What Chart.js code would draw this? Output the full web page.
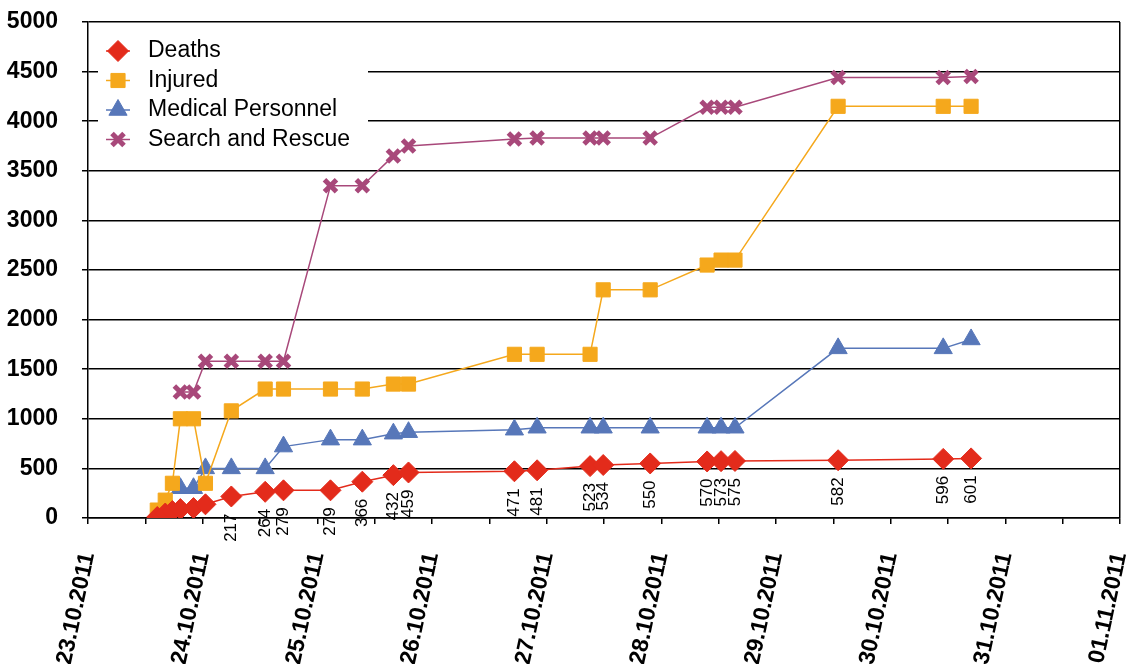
<!DOCTYPE html>
<html>
<head>
<meta charset="utf-8">
<script src="https://cdn.jsdelivr.net/npm/chart.js@4.4.0/dist/chart.umd.min.js"></script>
<style>
  html, body { margin: 0; padding: 0; background: #fff; overflow: hidden; }
  canvas { display: block; }
</style>
</head>
<body>
<canvas id="chart01" width="1126" height="664"></canvas>
<script>
// date ticks on the x axis (one per day, from 23.10)
var dayLabels = ['23.10.2011', '24.10.2011', '25.10.2011', '26.10.2011', '27.10.2011',
  '28.10.2011', '29.10.2011', '30.10.2011', '31.10.2011', '01.11.2011'];

// report times (dd.mm hh:mm, 2011)
var times = ['23.10 14:30', '23.10 16:10', '23.10 17:40', '23.10 19:20', '23.10 22:05',
  '24.10 00:35', '24.10 06:00', '24.10 13:05', '24.10 16:55', '25.10 02:45', '25.10 09:25',
  '25.10 15:55', '25.10 19:05', '26.10 17:15', '26.10 22:00', '27.10 09:05', '27.10 11:50',
  '27.10 21:40', '28.10 09:35', '28.10 12:30', '28.10 15:25', '29.10 13:00', '30.10 11:00',
  '30.10 16:50'];

var deaths = [10, 45, 70, 90, 100, 138, 217, 264, 279, 279, 366, 432, 459, 471, 481, 523, 534,
  550, 570, 573, 575, 582, 596, 601];
var injured = [80, 180, 350, 1000, 1000, 350, 1080, 1300, 1300, 1300, 1300, 1350, 1350, 1650,
  1650, 1650, 2300, 2300, 2550, 2600, 2600, 4150, 4150, 4150];
var medical = [null, null, null, 300, 300, 500, 500, 500, 720, 790, 790, 850, 865, 890, 910,
  910, 910, 910, 910, 910, 910, 1710, 1710, 1800];
var rescue = [null, null, null, 1270, 1270, 1580, 1580, 1580, 1580, 3350, 3350, 3650, 3750,
  3820, 3830, 3830, 3830, 3830, 4140, 4140, 4140, 4440, 4440, 4450];

var seriesNames = ['Deaths', 'Injured', 'Medical Personnel', 'Search and Rescue'];
var firstLabeled = 6; // death counts are written from 24.10 06:00 on

var FONT = 'Arial, "Liberation Sans", sans-serif';

// hours since 23.10.2011 00:00
function toHours (s) {
  var p = s.split(/[. :]/);
  var t = Date.UTC(2011, +p[1] - 1, +p[0], +p[2], +p[3]);
  return (t - Date.UTC(2011, 9, 23)) / 3600000;
}

function points (values) {
  return values.map(function (v, i) { return { x: toHours(times[i]), y: v }; });
}

var styles = [
  { color: '#E32B1B', point: 'rectRot', radius: 10.5, pbw: 1 },
  { color: '#F5A81C', point: 'rect', radius: 10, pbw: 1 },
  { color: '#5777B9', point: 'triangle', radius: 10.5, pbw: 1 },
  { color: '#A8487A', point: 'crossRot', radius: 8.5, pbw: 5 }
];

function makeSet (idx, values) {
  var s = styles[idx];
  return {
    label: seriesNames[idx],
    data: points(values),
    borderColor: s.color,
    backgroundColor: s.color,
    borderWidth: 1.5,
    pointStyle: s.point,
    pointRadius: s.radius,
    pointHoverRadius: s.radius,
    pointBackgroundColor: s.color,
    pointBorderColor: s.color,
    pointBorderWidth: s.pbw,
    spanGaps: true,
    tension: 0
  };
}

// keep the plot box fixed: no extra room for the rotated end labels
function noPadding (scale) {
  scale.paddingLeft = scale.paddingRight = scale.paddingTop = scale.paddingBottom = 0;
}

// rotated death counts under the red markers
var deathLabels = {
  id: 'deathLabels',
  afterDatasetsDraw: function (chart) {
    var ctx = chart.ctx;
    var meta = chart.getDatasetMeta(0);
    ctx.save();
    ctx.fillStyle = '#000';
    ctx.font = '17px ' + FONT;
    ctx.textAlign = 'right';
    ctx.textBaseline = 'middle';
    meta.data.forEach(function (pt, i) {
      if (i < firstLabeled) return;
      ctx.save();
      ctx.translate(pt.x, pt.y + 17);
      ctx.rotate(-Math.PI / 2);
      ctx.fillText(String(deaths[i]), 0, 0);
      ctx.restore();
    });
    ctx.restore();
  }
};

// legend box in the top left of the plot
var boxLegend = {
  id: 'boxLegend',
  afterDatasetsDraw: function (chart) {
    var ctx = chart.ctx;
    var a = chart.chartArea;
    ctx.save();
    ctx.fillStyle = '#fff';
    ctx.fillRect(a.left + 10, a.top + 8, 270, 136);
    ctx.font = '23px ' + FONT;
    ctx.textBaseline = 'middle';
    seriesNames.forEach(function (name, i) {
      var s = styles[i];
      var y = a.top + 29 + i * 29.5;
      var x = a.left + 30;
      ctx.strokeStyle = s.color;
      ctx.fillStyle = s.color;
      ctx.lineWidth = 1.5;
      ctx.beginPath();
      ctx.moveTo(x - 12, y);
      ctx.lineTo(x + 12, y);
      ctx.stroke();
      ctx.lineWidth = s.pbw;
      Chart.helpers.drawPoint(ctx, { pointStyle: s.point, radius: s.radius, rotation: 0, borderWidth: s.pbw }, x, y);
      ctx.fillStyle = '#000';
      ctx.fillText(name, a.left + 60, y);
    });
    ctx.restore();
  }
};

function init_chart () {
  var el = document.getElementById('chart01');
  if (!el) {
    return;
  }
  new Chart(el.getContext('2d'), {
    type: 'line',
    data: {
      datasets: [makeSet(0, deaths), makeSet(1, injured), makeSet(2, medical), makeSet(3, rescue)]
    },
    plugins: [deathLabels, boxLegend],
    options: {
      responsive: false,
      animation: false,
      devicePixelRatio: 1,
      layout: { autoPadding: false, padding: { top: 22, right: 6, left: 0, bottom: 0 } },
      plugins: {
        legend: { display: false },
        tooltip: { enabled: false }
      },
      scales: {
        x: {
          type: 'linear',
          min: 0,
          max: 216,
          afterFit: function (scale) {
            scale.height = 146;
            noPadding(scale);
          },
          ticks: {
            stepSize: 12,
            autoSkip: false,
            minRotation: 78,
            maxRotation: 78,
            padding: 26,
            color: '#000',
            font: { family: FONT, size: 23, weight: 'bold' },
            callback: function (v) {
              return v % 24 === 0 ? dayLabels[v / 24] : '';
            }
          },
          grid: {
            drawOnChartArea: true,
            color: function (c) {
              return c.tick && c.tick.value === 216 ? '#000' : 'rgba(0,0,0,0)';
            },
            tickColor: '#000',
            tickLength: 6,
            lineWidth: 1.5
          },
          border: { color: '#000', width: 1.5 }
        },
        y: {
          min: 0,
          max: 5000,
          afterFit: function (scale) {
            scale.width = 88;
            noPadding(scale);
          },
          ticks: {
            stepSize: 500,
            padding: 24,
            color: '#000',
            font: { family: FONT, size: 23, weight: 'bold' },
            callback: function (v) { return String(v); }
          },
          grid: { color: '#000', lineWidth: 1.5, tickLength: 6 },
          border: { color: '#000', width: 1.5 }
        }
      }
    }
  });
}

init_chart();
</script>
</body>
</html>
